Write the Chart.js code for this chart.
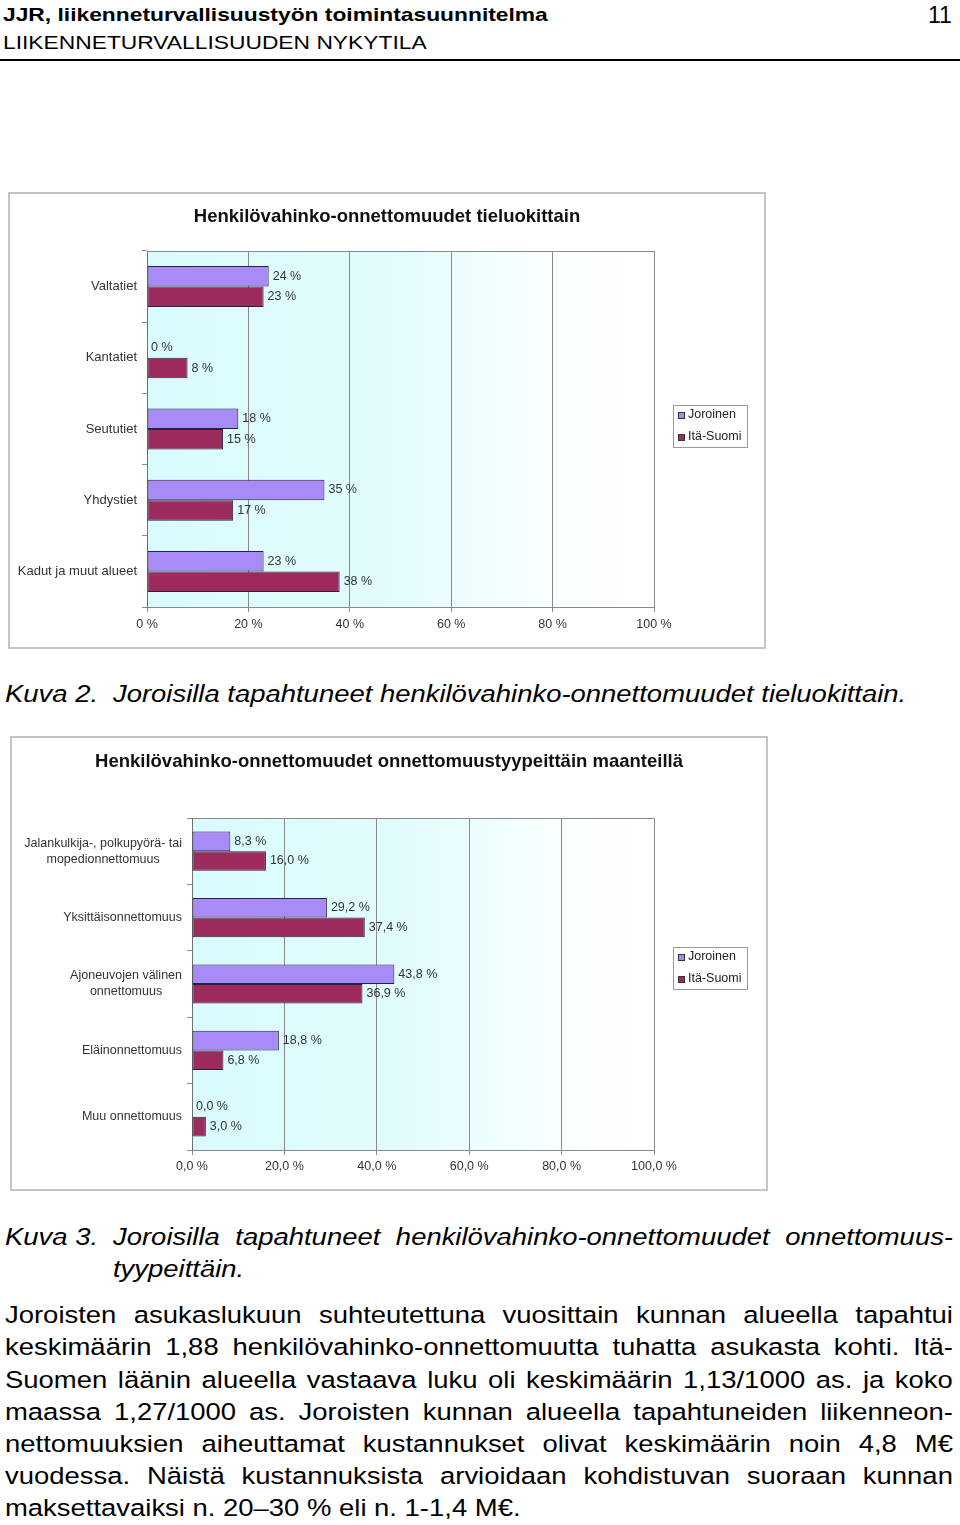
<!DOCTYPE html>
<html><head><meta charset="utf-8">
<script src="https://cdn.jsdelivr.net/npm/chart.js@4.4.1/dist/chart.umd.min.js"></script>
<style>
html,body{margin:0;padding:0;background:#fff;}
#page{position:relative;width:960px;height:1525px;overflow:hidden;font-family:"Liberation Sans",Arial,sans-serif;color:#000;}
.t{position:absolute;white-space:nowrap;transform-origin:0 0;}
.frame{position:absolute;border:2px solid #c4c4c4;box-sizing:border-box;background:#fff;}
.frame canvas{position:absolute;left:0;top:0;}
.jl{position:absolute;display:flex;justify-content:space-between;font-size:24.5px;line-height:32px;height:32px;transform:scaleX(1.12);transform-origin:0 0;white-space:nowrap;}
.body{font-size:24.5px;line-height:32px;transform:scaleX(1.12);}
</style></head>
<body><div id="page">
<div class="t" style="left:3px;top:4px;font-size:19px;line-height:22px;font-weight:bold;transform:scaleX(1.2)">JJR, liikenneturvallisuustyön toimintasuunnitelma</div>
<div class="t" style="left:3px;top:32px;font-size:19px;line-height:22px;transform:scaleX(1.2)">LIIKENNETURVALLISUUDEN NYKYTILA</div>
<div class="t" style="left:928px;top:3px;font-size:23px;line-height:24px;">11</div>
<div style="position:absolute;left:0;top:59px;width:960px;height:2px;background:#000"></div>

<div class="frame" style="left:8px;top:192px;width:758px;height:457px"><canvas id="c1" width="754" height="453"></canvas></div>

<div class="t body" style="left:5px;top:678px;font-style:italic"><span style="display:inline-block;width:96.4px">Kuva 2.</span>Joroisilla tapahtuneet henkilövahinko-onnettomuudet tieluokittain.</div>

<div class="frame" style="left:10px;top:736px;width:758px;height:455px"><canvas id="c2" width="754" height="451"></canvas></div>

<div class="t body" style="left:5px;top:1221px;font-style:italic">Kuva 3.</div>
<div class="jl" style="left:113px;top:1221px;width:750px;font-style:italic">Joroisilla tapahtuneet henkilövahinko-onnettomuudet onnettomuus-</div>
<div class="t body" style="left:113px;top:1253px;font-style:italic">tyypeittäin.</div>

<div class="jl" style="left:5px;top:1299px;width:846.4px">Joroisten asukaslukuun suhteutettuna vuosittain kunnan alueella tapahtui</div>
<div class="jl" style="left:5px;top:1331px;width:846.4px">keskimäärin 1,88 henkilövahinko-onnettomuutta tuhatta asukasta kohti. Itä-</div>
<div class="jl" style="left:5px;top:1364px;width:846.4px">Suomen läänin alueella vastaava luku oli keskimäärin 1,13/1000 as. ja koko</div>
<div class="jl" style="left:5px;top:1396px;width:846.4px">maassa 1,27/1000 as. Joroisten kunnan alueella tapahtuneiden liikenneon-</div>
<div class="jl" style="left:5px;top:1428px;width:846.4px">nettomuuksien aiheuttamat kustannukset olivat keskimäärin noin 4,8 M€</div>
<div class="jl" style="left:5px;top:1460px;width:846.4px">vuodessa. Näistä kustannuksista arvioidaan kohdistuvan suoraan kunnan</div>
<div class="t body" style="left:5px;top:1492px;">maksettavaiksi n. 20–30 % eli n. 1-1,4 M€.</div>
</div>
<script>
// ---- data ----
const seriesNames = ['Joroinen', 'Itä-Suomi'];

const roadCategories = ['Valtatiet', 'Kantatiet', 'Seututiet', 'Yhdystiet', 'Kadut ja muut alueet'];
const roadJoroinen = [24, 0, 18, 35, 23];
const roadItaSuomi = [23, 8, 15, 17, 38];
const roadTickLabels = ['0 %', '20 %', '40 %', '60 %', '80 %', '100 %'];

const typeCategories = [['Jalankulkija-, polkupyörä- tai', 'mopedionnettomuus'], 'Yksittäisonnettomuus', ['Ajoneuvojen välinen', 'onnettomuus'], 'Eläinonnettomuus', 'Muu onnettomuus'];
const typeJoroinen = [8.3, 29.2, 43.8, 18.8, 0.0];
const typeItaSuomi = [16.0, 37.4, 36.9, 6.8, 3.0];
const typeTickLabels = ['0,0 %', '20,0 %', '40,0 %', '60,0 %', '80,0 %', '100,0 %'];

// ---- justified lines ----
document.querySelectorAll('.jl').forEach(el => {
  const words = el.textContent.trim().split(/\s+/);
  el.textContent = '';
  words.forEach(w => { const s = document.createElement('span'); s.textContent = w; el.appendChild(s); });
});

const FONT = '"Liberation Sans", Arial, sans-serif';
Chart.defaults.font.family = FONT;
Chart.defaults.color = '#333';

const plotBg = {
  id: 'plotBg',
  beforeDraw(chart) {
    const { ctx, chartArea: a } = chart;
    const g = ctx.createLinearGradient(a.left, 0, a.right, 0);
    g.addColorStop(0, '#d9fbfd');
    g.addColorStop(0.5, '#e3fcfd');
    g.addColorStop(0.82, '#fbffff');
    g.addColorStop(1, '#ffffff');
    ctx.save();
    ctx.fillStyle = g;
    ctx.fillRect(a.left, a.top, a.right - a.left, a.bottom - a.top);
    ctx.strokeStyle = '#8a8a8a'; ctx.lineWidth = 1;
    ctx.beginPath(); ctx.moveTo(a.left, a.top + 0.5); ctx.lineTo(a.right, a.top + 0.5); ctx.stroke();
    ctx.restore();
  }
};

const pageTitle = {
  id: 'pageTitle',
  afterDraw(chart, args, opts) {
    const { ctx } = chart;
    ctx.save();
    ctx.font = 'bold 18.5px ' + FONT; ctx.fillStyle = '#111';
    ctx.textAlign = 'center'; ctx.textBaseline = 'middle';
    ctx.fillText(opts.text, chart.width / 2 + (opts.dx || 0), opts.y);
    ctx.restore();
  }
};

const yLabels = {
  id: 'yLabels',
  afterDraw(chart, args, opts) {
    const { ctx, chartArea: a } = chart;
    const sc = chart.scales.y;
    ctx.save();
    ctx.font = opts.font; ctx.fillStyle = opts.color;
    ctx.textAlign = 'center'; ctx.textBaseline = 'middle';
    chart.data.labels.forEach((lab, i) => {
      const lines = Array.isArray(lab) ? lab : [lab];
      const w = Math.max(...lines.map(l => ctx.measureText(l).width));
      const cx = a.left - opts.gap - w / 2;
      const cy = sc.getPixelForValue(i);
      const n = lines.length;
      lines.forEach((l, k) => ctx.fillText(l, cx, cy + (k - (n - 1) / 2) * opts.lineHeight));
    });
    ctx.restore();
  }
};

const valueLabels = {
  id: 'valueLabels',
  afterDatasetsDraw(chart, args, opts) {
    const { ctx } = chart;
    ctx.save();
    ctx.font = opts.font; ctx.fillStyle = opts.color;
    ctx.textAlign = 'left'; ctx.textBaseline = 'middle';
    chart.data.datasets.forEach((ds, di) => {
      chart.getDatasetMeta(di).data.forEach((el, i) => {
        ctx.fillText(opts.format(ds.data[i]), el.x + opts.offset, el.y);
      });
    });
    ctx.restore();
  }
};

const boxLegend = {
  id: 'boxLegend',
  afterDraw(chart, args, opts) {
    const { ctx, chartArea: a } = chart;
    const x = Math.round(a.right + opts.dx), y = opts.top, w = opts.w, h = opts.h;
    ctx.save();
    ctx.fillStyle = '#fff'; ctx.fillRect(x, y, w, h);
    ctx.strokeStyle = '#9a9a9a'; ctx.lineWidth = 1; ctx.strokeRect(x + 0.5, y + 0.5, w, h);
    ctx.font = opts.font; ctx.textBaseline = 'middle'; ctx.textAlign = 'left';
    chart.data.datasets.forEach((ds, i) => {
      const cy = Math.round(y + opts.row0 + i * opts.rowGap);
      ctx.fillStyle = ds.backgroundColor; ctx.fillRect(x + 5, cy - 3, 7, 7);
      ctx.strokeStyle = '#333'; ctx.strokeRect(x + 5.5, cy - 2.5, 6, 6);
      ctx.fillStyle = '#222'; ctx.fillText(ds.label, x + 15, cy);
    });
    ctx.restore();
  }
};

function makeChart(id, labels, d1, d2, tickLabels, o) {
  const mk = (name, data, color) => ({
    label: name, data, backgroundColor: color,
    borderColor: '#26223e', borderWidth: c => (c.raw === 0 ? 0 : 1), borderSkipped: false,
    categoryPercentage: o.cat, barPercentage: 1
  });
  return new Chart(document.getElementById(id), {
    type: 'bar',
    data: { labels, datasets: [mk(seriesNames[0], d1, '#a88bf6'), mk(seriesNames[1], d2, '#9e2b5d')] },
    options: {
      indexAxis: 'y', responsive: false, animation: false, devicePixelRatio: 1,
      layout: { padding: { left: 0, top: o.padTop, right: o.padRight, bottom: 0 } },
      scales: {
        x: {
          min: 0, max: 100,
          ticks: { stepSize: 20, callback: (v, i) => tickLabels[i], color: '#333', font: { size: 12.5 }, padding: o.tickPad, maxRotation: 0 },
          grid: { color: '#8a8a8a', tickLength: 5 },
          border: { color: '#8a8a8a' },
          afterFit: s => { s.height = o.xH; }
        },
        y: {
          ticks: { display: false },
          grid: { offset: true, drawOnChartArea: false, tickLength: 5, color: '#8a8a8a' },
          border: { color: '#707070' },
          afterFit: s => { s.width = o.yW; }
        }
      },
      plugins: {
        legend: { display: false },
        tooltip: { enabled: false },
        title: { display: false },
        pageTitle: { text: o.title, y: o.titleY },
        yLabels: { font: o.yFont, color: '#333', gap: 10, lineHeight: 16 },
        valueLabels: { font: '12.5px ' + FONT, color: '#333', offset: 4, format: o.fmt },
        boxLegend: { dx: 19, top: o.legTop, w: 74, h: 42, row0: 10, rowGap: 22, font: '12.5px ' + FONT }
      }
    },
    plugins: [plotBg, pageTitle, yLabels, valueLabels, boxLegend]
  });
}

makeChart('c1', roadCategories, roadJoroinen, roadItaSuomi, roadTickLabels, {
  title: 'Henkilövahinko-onnettomuudet tieluokittain', titleY: 23,
  cat: 0.576, padTop: 57, padRight: 110, yW: 137, xH: 40, tickPad: 5,
  yFont: '13px ' + FONT, legTop: 211,
  fmt: v => Math.round(v) + ' %'
});

makeChart('c2', typeCategories, typeJoroinen, typeItaSuomi, typeTickLabels, {
  title: 'Henkilövahinko-onnettomuudet onnettomuustyypeittäin maanteillä', titleY: 24,
  cat: 0.59, padTop: 80, padRight: 112, yW: 180, xH: 39, tickPad: 4.5,
  yFont: '12.5px ' + FONT, legTop: 209,
  fmt: v => v.toFixed(1).replace('.', ',') + ' %'
});
</script>
</body></html>
